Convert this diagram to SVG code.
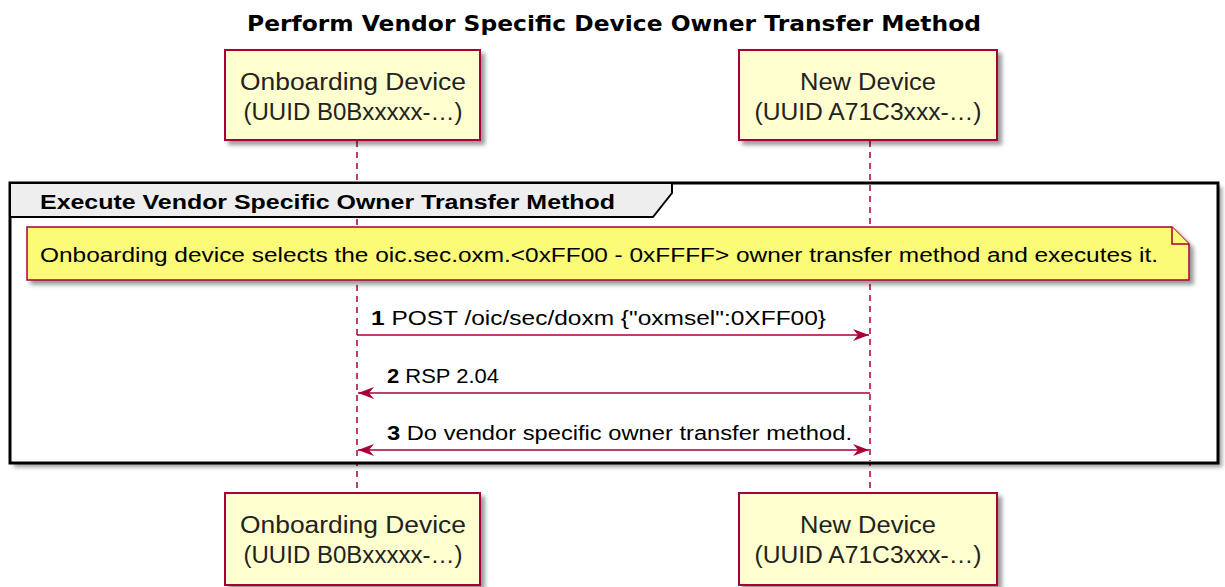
<svg xmlns="http://www.w3.org/2000/svg" width="1225" height="587" viewBox="0 0 1225 587">
  <style>
    .title { font-family: "DejaVu Sans", "Liberation Sans", sans-serif; font-weight: bold; font-size: 22px; fill: #000; }
    .ptext { font-family: "Liberation Sans", Arial, sans-serif; font-size: 23px; fill: #222; text-anchor: middle; }
    .pbox { fill: #FEFECE; stroke: #A80036; stroke-width: 2; }
    .life { stroke: #A80036; stroke-width: 1.5; stroke-dasharray: 6 5; fill: none; }
    .msg { stroke: #A80036; stroke-width: 1.5; fill: none; }
    .label { font-family: "Liberation Sans", Arial, sans-serif; font-size: 20px; fill: #000; }
    .num { font-weight: bold; }
    .frame { fill: none; stroke: #000; stroke-width: 3; }
    .tab { fill: #EEEEEE; stroke: #000; stroke-width: 2; }
    .tabtext { font-family: "Liberation Sans", Arial, sans-serif; font-weight: bold; font-size: 20px; fill: #000; }
    .note { fill: #FBFB77; stroke: #A80036; stroke-width: 1.5; }
  </style>
  <defs>
    <filter id="shadow" x="-10%" y="-10%" width="130%" height="140%">
      <feGaussianBlur in="SourceAlpha" stdDeviation="2"/>
      <feOffset dx="4" dy="4" result="b"/>
      <feComponentTransfer><feFuncA type="linear" slope="0.4"/></feComponentTransfer>
      <feMerge><feMergeNode/><feMergeNode in="SourceGraphic"/></feMerge>
    </filter>
    <marker id="head" viewBox="0 0 16 12" refX="16" refY="6" markerWidth="16" markerHeight="12" markerUnits="userSpaceOnUse" orient="auto-start-reverse">
      <path d="M0,0 L16,6 L0,12 L5,6 Z" fill="#A80036"/>
    </marker>
  </defs>

  <text class="title" x="614" y="31" text-anchor="middle" textLength="734" lengthAdjust="spacingAndGlyphs">Perform Vendor Specific Device Owner Transfer Method</text>

  <!-- lifelines -->
  <g id="lifelines">
    <line class="life" x1="357" y1="141" x2="357" y2="493"/>
    <line class="life" x1="870" y1="141" x2="870" y2="493"/>
  </g>

  <!-- group frame -->
  <g id="frame">
    <rect x="10" y="183" width="1208" height="280" fill="#fff" stroke="none" filter="url(#shadow)"/>
    <rect class="frame" x="10" y="183" width="1208" height="280"/>
    <path class="tab" d="M10,183 H672 V193 L653,217 H10 Z"/>
    <text class="tabtext" x="40" y="209" textLength="575" lengthAdjust="spacingAndGlyphs">Execute Vendor Specific Owner Transfer Method</text>
  </g>

  <!-- lifelines drawn again over the frame background -->
  <g id="lifelines-inner">
    <line class="life" x1="357" y1="219" x2="357" y2="461"/>
    <line class="life" x1="870" y1="185" x2="870" y2="461"/>
  </g>

  <g id="note">
    <path class="note" d="M27,227 H1172 L1189,244 V280 H27 Z" filter="url(#shadow)"/>
    <path class="note" d="M1172,227 V244 H1189" fill="none"/>
    <text class="label" x="40" y="262" textLength="1118" lengthAdjust="spacingAndGlyphs">Onboarding device selects the oic.sec.oxm.&lt;0xFF00 - 0xFFFF&gt; owner transfer method and executes it.</text>
  </g>

  <!-- participants -->
  <g id="onboarding-top">
    <rect class="pbox" x="225" y="50" width="255" height="90" filter="url(#shadow)"/>
    <text class="ptext" x="353" y="90" textLength="226" lengthAdjust="spacingAndGlyphs">Onboarding Device</text>
    <text class="ptext" x="353" y="120" textLength="219" lengthAdjust="spacingAndGlyphs">(UUID B0Bxxxxx-…)</text>
  </g>
  <g id="newdevice-top">
    <rect class="pbox" x="739" y="50" width="258" height="90" filter="url(#shadow)"/>
    <text class="ptext" x="868" y="90" textLength="136" lengthAdjust="spacingAndGlyphs">New Device</text>
    <text class="ptext" x="868" y="120" textLength="227" lengthAdjust="spacingAndGlyphs">(UUID A71C3xxx-…)</text>
  </g>
  <g id="onboarding-bottom">
    <rect class="pbox" x="225" y="493" width="255" height="92" filter="url(#shadow)"/>
    <text class="ptext" x="353" y="533" textLength="226" lengthAdjust="spacingAndGlyphs">Onboarding Device</text>
    <text class="ptext" x="353" y="563" textLength="219" lengthAdjust="spacingAndGlyphs">(UUID B0Bxxxxx-…)</text>
  </g>
  <g id="newdevice-bottom">
    <rect class="pbox" x="739" y="493" width="258" height="92" filter="url(#shadow)"/>
    <text class="ptext" x="868" y="533" textLength="136" lengthAdjust="spacingAndGlyphs">New Device</text>
    <text class="ptext" x="868" y="563" textLength="227" lengthAdjust="spacingAndGlyphs">(UUID A71C3xxx-…)</text>
  </g>

  <!-- messages -->
  <g id="connectors">
    <line class="msg" x1="357" y1="335" x2="869" y2="335" marker-end="url(#head)"/>
    <text class="label" x="371" y="325" textLength="455" lengthAdjust="spacingAndGlyphs"><tspan class="num">1</tspan> POST /oic/sec/doxm {"oxmsel":0XFF00}</text>

    <line class="msg" x1="870" y1="393" x2="358" y2="393" marker-end="url(#head)"/>
    <text class="label" x="387" y="383" textLength="112" lengthAdjust="spacingAndGlyphs"><tspan class="num">2</tspan> RSP 2.04</text>

    <line class="msg" x1="358" y1="450" x2="869" y2="450" marker-start="url(#head)" marker-end="url(#head)"/>
    <text class="label" x="387" y="440" textLength="465" lengthAdjust="spacingAndGlyphs"><tspan class="num">3</tspan> Do vendor specific owner transfer method.</text>
  </g>
</svg>
